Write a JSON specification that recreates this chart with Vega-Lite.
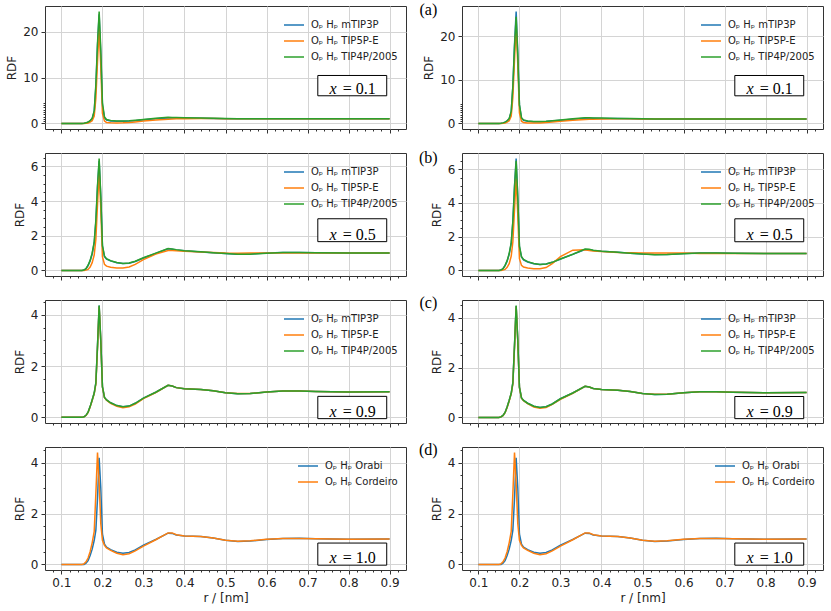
{
"$schema": "https://vega.github.io/schema/vega-lite/v6.json",
"padding": {"left": 5, "top": 1, "right": 8, "bottom": 5},
"background": "white",
"columns": 2,
"spacing": {"row": 24, "column": 56},
"bounds": "flush",
"resolve": {"scale": {"color": "independent"}},
"datasets": {"d": [
{"p":"1L","r":0.1,"m":0,"e":0,"t":0},
{"p":"1L","r":0.15,"m":0,"e":0,"t":0},
{"p":"1L","r":0.155,"m":0.02,"e":0,"t":0.03},
{"p":"1L","r":0.16,"m":0.1,"e":0.03,"t":0.12},
{"p":"1L","r":0.165,"m":0.25,"e":0.1,"t":0.3},
{"p":"1L","r":0.17,"m":0.55,"e":0.3,"t":0.6},
{"p":"1L","r":0.175,"m":1.0,"e":0.6,"t":1.1},
{"p":"1L","r":0.18,"m":2.6,"e":1.6,"t":2.8},
{"p":"1L","r":0.184,"m":8,"e":5.5,"t":8.5},
{"p":"1L","r":0.188,"m":17,"e":13.5,"t":17.5},
{"p":"1L","r":0.192,"m":23.8,"e":21,"t":24.4},
{"p":"1L","r":0.196,"m":15,"e":12.5,"t":16},
{"p":"1L","r":0.2,"m":4,"e":2.2,"t":4.5},
{"p":"1L","r":0.205,"m":1.2,"e":0.5,"t":1.4},
{"p":"1L","r":0.21,"m":0.75,"e":0.22,"t":0.85},
{"p":"1L","r":0.22,"m":0.55,"e":0.12,"t":0.62},
{"p":"1L","r":0.235,"m":0.45,"e":0.1,"t":0.52},
{"p":"1L","r":0.25,"m":0.45,"e":0.12,"t":0.52},
{"p":"1L","r":0.265,"m":0.5,"e":0.2,"t":0.58},
{"p":"1L","r":0.28,"m":0.6,"e":0.32,"t":0.68},
{"p":"1L","r":0.3,"m":0.78,"e":0.5,"t":0.85},
{"p":"1L","r":0.33,"m":1.0,"e":0.75,"t":1.1},
{"p":"1L","r":0.36,"m":1.2,"e":0.92,"t":1.32},
{"p":"1L","r":0.37,"m":1.22,"e":0.96,"t":1.3},
{"p":"1L","r":0.38,"m":1.2,"e":0.99,"t":1.28},
{"p":"1L","r":0.4,"m":1.16,"e":1.02,"t":1.24},
{"p":"1L","r":0.44,"m":1.1,"e":1.05,"t":1.16},
{"p":"1L","r":0.47,"m":1.06,"e":1.05,"t":1.1},
{"p":"1L","r":0.5,"m":1.03,"e":1.03,"t":1.06},
{"p":"1L","r":0.53,"m":1.01,"e":1.01,"t":1.03},
{"p":"1L","r":0.56,"m":1.0,"e":1.0,"t":1.01},
{"p":"1L","r":0.6,"m":1,"e":1,"t":1},
{"p":"1L","r":0.64,"m":1,"e":1,"t":1},
{"p":"1L","r":0.68,"m":1,"e":1,"t":1},
{"p":"1L","r":0.72,"m":1,"e":1,"t":1},
{"p":"1L","r":0.8,"m":1,"e":1,"t":1},
{"p":"1L","r":0.9,"m":1,"e":1,"t":1},
{"p":"1R","r":0.1,"m":0,"e":0,"t":0},
{"p":"1R","r":0.15,"m":0,"e":0,"t":0},
{"p":"1R","r":0.155,"m":0.02,"e":0,"t":0.03},
{"p":"1R","r":0.16,"m":0.1,"e":0.03,"t":0.12},
{"p":"1R","r":0.165,"m":0.25,"e":0.1,"t":0.3},
{"p":"1R","r":0.17,"m":0.55,"e":0.3,"t":0.6},
{"p":"1R","r":0.175,"m":1.0,"e":0.6,"t":1.1},
{"p":"1R","r":0.18,"m":2.7,"e":1.7,"t":2.8},
{"p":"1R","r":0.184,"m":8.5,"e":6,"t":8.5},
{"p":"1R","r":0.188,"m":18,"e":14.5,"t":17.5},
{"p":"1R","r":0.192,"m":25.6,"e":22.5,"t":24.4},
{"p":"1R","r":0.196,"m":16,"e":13.5,"t":15.5},
{"p":"1R","r":0.2,"m":4.2,"e":2.4,"t":4.3},
{"p":"1R","r":0.205,"m":1.2,"e":0.5,"t":1.3},
{"p":"1R","r":0.21,"m":0.7,"e":0.2,"t":0.8},
{"p":"1R","r":0.22,"m":0.5,"e":0.1,"t":0.55},
{"p":"1R","r":0.235,"m":0.4,"e":0.08,"t":0.45},
{"p":"1R","r":0.25,"m":0.4,"e":0.1,"t":0.45},
{"p":"1R","r":0.265,"m":0.45,"e":0.18,"t":0.5},
{"p":"1R","r":0.28,"m":0.55,"e":0.3,"t":0.62},
{"p":"1R","r":0.3,"m":0.72,"e":0.48,"t":0.8},
{"p":"1R","r":0.33,"m":0.98,"e":0.72,"t":1.05},
{"p":"1R","r":0.36,"m":1.18,"e":0.9,"t":1.28},
{"p":"1R","r":0.37,"m":1.2,"e":0.95,"t":1.28},
{"p":"1R","r":0.38,"m":1.18,"e":0.98,"t":1.26},
{"p":"1R","r":0.4,"m":1.15,"e":1.02,"t":1.22},
{"p":"1R","r":0.44,"m":1.1,"e":1.05,"t":1.15},
{"p":"1R","r":0.47,"m":1.06,"e":1.05,"t":1.1},
{"p":"1R","r":0.5,"m":1.03,"e":1.03,"t":1.06},
{"p":"1R","r":0.53,"m":1.01,"e":1.01,"t":1.03},
{"p":"1R","r":0.56,"m":1.0,"e":1.0,"t":1.01},
{"p":"1R","r":0.6,"m":1,"e":1,"t":1},
{"p":"1R","r":0.64,"m":1,"e":1,"t":1},
{"p":"1R","r":0.68,"m":1,"e":1,"t":1},
{"p":"1R","r":0.72,"m":1,"e":1,"t":1},
{"p":"1R","r":0.8,"m":1,"e":1,"t":1},
{"p":"1R","r":0.9,"m":1,"e":1,"t":1},
{"p":"2L","r":0.1,"m":0,"e":0,"t":0},
{"p":"2L","r":0.15,"m":0,"e":0,"t":0},
{"p":"2L","r":0.155,"m":0.02,"e":0,"t":0.02},
{"p":"2L","r":0.16,"m":0.1,"e":0.02,"t":0.1},
{"p":"2L","r":0.165,"m":0.28,"e":0.06,"t":0.3},
{"p":"2L","r":0.17,"m":0.55,"e":0.2,"t":0.58},
{"p":"2L","r":0.175,"m":0.95,"e":0.45,"t":1.0},
{"p":"2L","r":0.18,"m":1.6,"e":0.9,"t":1.65},
{"p":"2L","r":0.184,"m":2.8,"e":1.8,"t":2.9},
{"p":"2L","r":0.188,"m":4.8,"e":3.8,"t":4.9},
{"p":"2L","r":0.192,"m":6.3,"e":5.7,"t":6.45},
{"p":"2L","r":0.196,"m":4.2,"e":3.6,"t":4.3},
{"p":"2L","r":0.2,"m":1.4,"e":0.8,"t":1.45},
{"p":"2L","r":0.205,"m":0.8,"e":0.35,"t":0.82},
{"p":"2L","r":0.21,"m":0.65,"e":0.25,"t":0.68},
{"p":"2L","r":0.22,"m":0.55,"e":0.18,"t":0.56},
{"p":"2L","r":0.235,"m":0.45,"e":0.14,"t":0.46},
{"p":"2L","r":0.25,"m":0.4,"e":0.14,"t":0.4},
{"p":"2L","r":0.265,"m":0.42,"e":0.2,"t":0.43},
{"p":"2L","r":0.28,"m":0.52,"e":0.35,"t":0.53},
{"p":"2L","r":0.3,"m":0.72,"e":0.62,"t":0.73},
{"p":"2L","r":0.33,"m":0.98,"e":0.95,"t":1.0},
{"p":"2L","r":0.36,"m":1.25,"e":1.15,"t":1.26},
{"p":"2L","r":0.37,"m":1.22,"e":1.15,"t":1.24},
{"p":"2L","r":0.38,"m":1.18,"e":1.14,"t":1.2},
{"p":"2L","r":0.4,"m":1.13,"e":1.1,"t":1.14},
{"p":"2L","r":0.44,"m":1.07,"e":1.06,"t":1.08},
{"p":"2L","r":0.47,"m":1.02,"e":1.03,"t":1.02},
{"p":"2L","r":0.5,"m":0.97,"e":1.0,"t":0.97},
{"p":"2L","r":0.53,"m":0.93,"e":0.99,"t":0.93},
{"p":"2L","r":0.56,"m":0.95,"e":1.0,"t":0.94},
{"p":"2L","r":0.6,"m":1.0,"e":1.0,"t":0.99},
{"p":"2L","r":0.64,"m":1.03,"e":1.01,"t":1.03},
{"p":"2L","r":0.68,"m":1.03,"e":1.01,"t":1.03},
{"p":"2L","r":0.72,"m":1.02,"e":1.0,"t":1.02},
{"p":"2L","r":0.8,"m":1.0,"e":1.0,"t":1.0},
{"p":"2L","r":0.9,"m":1.0,"e":1.0,"t":1.0},
{"p":"2R","r":0.1,"m":0,"e":0,"t":0},
{"p":"2R","r":0.15,"m":0,"e":0,"t":0},
{"p":"2R","r":0.155,"m":0.02,"e":0,"t":0.02},
{"p":"2R","r":0.16,"m":0.1,"e":0.02,"t":0.1},
{"p":"2R","r":0.165,"m":0.28,"e":0.06,"t":0.3},
{"p":"2R","r":0.17,"m":0.55,"e":0.18,"t":0.58},
{"p":"2R","r":0.175,"m":0.95,"e":0.4,"t":1.0},
{"p":"2R","r":0.18,"m":1.6,"e":0.85,"t":1.65},
{"p":"2R","r":0.184,"m":2.9,"e":1.7,"t":2.9},
{"p":"2R","r":0.188,"m":5.0,"e":3.6,"t":4.9},
{"p":"2R","r":0.192,"m":6.63,"e":5.45,"t":6.5},
{"p":"2R","r":0.196,"m":4.3,"e":3.3,"t":4.3},
{"p":"2R","r":0.2,"m":1.4,"e":0.7,"t":1.45},
{"p":"2R","r":0.205,"m":0.8,"e":0.3,"t":0.82},
{"p":"2R","r":0.21,"m":0.62,"e":0.2,"t":0.65},
{"p":"2R","r":0.22,"m":0.5,"e":0.14,"t":0.52},
{"p":"2R","r":0.235,"m":0.4,"e":0.1,"t":0.41},
{"p":"2R","r":0.25,"m":0.35,"e":0.1,"t":0.35},
{"p":"2R","r":0.265,"m":0.38,"e":0.17,"t":0.38},
{"p":"2R","r":0.28,"m":0.48,"e":0.4,"t":0.48},
{"p":"2R","r":0.3,"m":0.68,"e":0.82,"t":0.68},
{"p":"2R","r":0.33,"m":0.95,"e":1.2,"t":0.96},
{"p":"2R","r":0.36,"m":1.24,"e":1.22,"t":1.27},
{"p":"2R","r":0.37,"m":1.22,"e":1.18,"t":1.25},
{"p":"2R","r":0.38,"m":1.18,"e":1.15,"t":1.2},
{"p":"2R","r":0.4,"m":1.13,"e":1.12,"t":1.14},
{"p":"2R","r":0.44,"m":1.08,"e":1.07,"t":1.08},
{"p":"2R","r":0.47,"m":1.02,"e":1.05,"t":1.02},
{"p":"2R","r":0.5,"m":0.97,"e":1.04,"t":0.97},
{"p":"2R","r":0.53,"m":0.94,"e":1.04,"t":0.93},
{"p":"2R","r":0.56,"m":0.95,"e":1.04,"t":0.94},
{"p":"2R","r":0.6,"m":1.0,"e":1.03,"t":0.99},
{"p":"2R","r":0.64,"m":1.03,"e":1.01,"t":1.03},
{"p":"2R","r":0.68,"m":1.03,"e":1.0,"t":1.03},
{"p":"2R","r":0.72,"m":1.02,"e":1.0,"t":1.02},
{"p":"2R","r":0.8,"m":1.0,"e":1.0,"t":1.0},
{"p":"2R","r":0.9,"m":1.0,"e":1.0,"t":1.0},
{"p":"3L","r":0.1,"m":0,"e":0,"t":0},
{"p":"3L","r":0.15,"m":0,"e":0,"t":0},
{"p":"3L","r":0.155,"m":0.02,"e":0.02,"t":0.02},
{"p":"3L","r":0.16,"m":0.08,"e":0.07,"t":0.08},
{"p":"3L","r":0.165,"m":0.2,"e":0.19,"t":0.2},
{"p":"3L","r":0.17,"m":0.42,"e":0.4,"t":0.42},
{"p":"3L","r":0.175,"m":0.68,"e":0.66,"t":0.68},
{"p":"3L","r":0.18,"m":0.95,"e":0.93,"t":0.95},
{"p":"3L","r":0.184,"m":1.35,"e":1.3,"t":1.35},
{"p":"3L","r":0.188,"m":2.8,"e":2.7,"t":2.8},
{"p":"3L","r":0.192,"m":4.36,"e":4.32,"t":4.36},
{"p":"3L","r":0.196,"m":3.0,"e":2.95,"t":3.0},
{"p":"3L","r":0.2,"m":1.2,"e":1.18,"t":1.2},
{"p":"3L","r":0.205,"m":0.78,"e":0.77,"t":0.78},
{"p":"3L","r":0.21,"m":0.68,"e":0.67,"t":0.68},
{"p":"3L","r":0.22,"m":0.57,"e":0.55,"t":0.57},
{"p":"3L","r":0.235,"m":0.46,"e":0.43,"t":0.46},
{"p":"3L","r":0.25,"m":0.41,"e":0.38,"t":0.41},
{"p":"3L","r":0.265,"m":0.44,"e":0.41,"t":0.44},
{"p":"3L","r":0.28,"m":0.55,"e":0.52,"t":0.55},
{"p":"3L","r":0.3,"m":0.75,"e":0.73,"t":0.75},
{"p":"3L","r":0.33,"m":0.98,"e":0.97,"t":0.98},
{"p":"3L","r":0.36,"m":1.25,"e":1.25,"t":1.25},
{"p":"3L","r":0.37,"m":1.22,"e":1.22,"t":1.22},
{"p":"3L","r":0.38,"m":1.16,"e":1.16,"t":1.16},
{"p":"3L","r":0.4,"m":1.12,"e":1.12,"t":1.12},
{"p":"3L","r":0.44,"m":1.09,"e":1.09,"t":1.09},
{"p":"3L","r":0.47,"m":1.04,"e":1.04,"t":1.04},
{"p":"3L","r":0.5,"m":0.96,"e":0.96,"t":0.96},
{"p":"3L","r":0.53,"m":0.92,"e":0.93,"t":0.92},
{"p":"3L","r":0.56,"m":0.93,"e":0.93,"t":0.93},
{"p":"3L","r":0.6,"m":0.99,"e":0.99,"t":0.99},
{"p":"3L","r":0.64,"m":1.03,"e":1.03,"t":1.03},
{"p":"3L","r":0.68,"m":1.03,"e":1.03,"t":1.03},
{"p":"3L","r":0.72,"m":1.01,"e":1.01,"t":1.01},
{"p":"3L","r":0.8,"m":0.99,"e":0.99,"t":0.99},
{"p":"3L","r":0.9,"m":1.0,"e":1.0,"t":1.0},
{"p":"3R","r":0.1,"m":0,"e":0,"t":0},
{"p":"3R","r":0.15,"m":0,"e":0,"t":0},
{"p":"3R","r":0.155,"m":0.02,"e":0.02,"t":0.02},
{"p":"3R","r":0.16,"m":0.08,"e":0.07,"t":0.08},
{"p":"3R","r":0.165,"m":0.2,"e":0.19,"t":0.2},
{"p":"3R","r":0.17,"m":0.42,"e":0.4,"t":0.42},
{"p":"3R","r":0.175,"m":0.68,"e":0.66,"t":0.68},
{"p":"3R","r":0.18,"m":0.97,"e":0.95,"t":0.97},
{"p":"3R","r":0.184,"m":1.4,"e":1.35,"t":1.4},
{"p":"3R","r":0.188,"m":2.9,"e":2.8,"t":2.9},
{"p":"3R","r":0.192,"m":4.48,"e":4.45,"t":4.5},
{"p":"3R","r":0.196,"m":3.1,"e":3.05,"t":3.1},
{"p":"3R","r":0.2,"m":1.22,"e":1.2,"t":1.22},
{"p":"3R","r":0.205,"m":0.78,"e":0.77,"t":0.78},
{"p":"3R","r":0.21,"m":0.68,"e":0.67,"t":0.68},
{"p":"3R","r":0.22,"m":0.57,"e":0.55,"t":0.57},
{"p":"3R","r":0.235,"m":0.45,"e":0.42,"t":0.45},
{"p":"3R","r":0.25,"m":0.4,"e":0.37,"t":0.4},
{"p":"3R","r":0.265,"m":0.43,"e":0.4,"t":0.43},
{"p":"3R","r":0.28,"m":0.54,"e":0.52,"t":0.54},
{"p":"3R","r":0.3,"m":0.75,"e":0.73,"t":0.75},
{"p":"3R","r":0.33,"m":0.98,"e":0.97,"t":0.98},
{"p":"3R","r":0.36,"m":1.25,"e":1.25,"t":1.25},
{"p":"3R","r":0.37,"m":1.22,"e":1.22,"t":1.22},
{"p":"3R","r":0.38,"m":1.16,"e":1.16,"t":1.16},
{"p":"3R","r":0.4,"m":1.12,"e":1.12,"t":1.12},
{"p":"3R","r":0.44,"m":1.09,"e":1.09,"t":1.09},
{"p":"3R","r":0.47,"m":1.04,"e":1.04,"t":1.04},
{"p":"3R","r":0.5,"m":0.96,"e":0.96,"t":0.96},
{"p":"3R","r":0.53,"m":0.92,"e":0.93,"t":0.92},
{"p":"3R","r":0.56,"m":0.93,"e":0.93,"t":0.93},
{"p":"3R","r":0.6,"m":0.99,"e":0.99,"t":0.99},
{"p":"3R","r":0.64,"m":1.03,"e":1.03,"t":1.03},
{"p":"3R","r":0.68,"m":1.03,"e":1.03,"t":1.03},
{"p":"3R","r":0.72,"m":1.01,"e":1.01,"t":1.01},
{"p":"3R","r":0.8,"m":0.99,"e":0.99,"t":0.99},
{"p":"3R","r":0.9,"m":1.0,"e":1.0,"t":1.0},
{"p":"4L","r":0.1,"o":0,"c":0},
{"p":"4L","r":0.15,"o":0,"c":0},
{"p":"4L","r":0.155,"o":0,"c":0.02},
{"p":"4L","r":0.16,"o":0.05,"c":0.1},
{"p":"4L","r":0.165,"o":0.15,"c":0.25},
{"p":"4L","r":0.17,"o":0.35,"c":0.5},
{"p":"4L","r":0.175,"o":0.6,"c":0.85},
{"p":"4L","r":0.18,"o":0.95,"c":1.3},
{"p":"4L","r":0.184,"o":1.35,"c":2.8},
{"p":"4L","r":0.188,"o":2.6,"c":4.4},
{"p":"4L","r":0.192,"o":4.2,"c":3.2},
{"p":"4L","r":0.196,"o":3.0,"c":1.6},
{"p":"4L","r":0.2,"o":1.2,"c":0.95},
{"p":"4L","r":0.205,"o":0.8,"c":0.75},
{"p":"4L","r":0.21,"o":0.68,"c":0.65},
{"p":"4L","r":0.22,"o":0.58,"c":0.55},
{"p":"4L","r":0.235,"o":0.48,"c":0.44},
{"p":"4L","r":0.25,"o":0.44,"c":0.38},
{"p":"4L","r":0.265,"o":0.47,"c":0.42},
{"p":"4L","r":0.28,"o":0.57,"c":0.53},
{"p":"4L","r":0.3,"o":0.76,"c":0.72},
{"p":"4L","r":0.33,"o":0.98,"c":0.97},
{"p":"4L","r":0.36,"o":1.23,"c":1.24},
{"p":"4L","r":0.37,"o":1.22,"c":1.24},
{"p":"4L","r":0.38,"o":1.16,"c":1.17},
{"p":"4L","r":0.4,"o":1.12,"c":1.12},
{"p":"4L","r":0.44,"o":1.1,"c":1.1},
{"p":"4L","r":0.47,"o":1.04,"c":1.04},
{"p":"4L","r":0.5,"o":0.95,"c":0.95},
{"p":"4L","r":0.53,"o":0.9,"c":0.91},
{"p":"4L","r":0.56,"o":0.92,"c":0.93},
{"p":"4L","r":0.6,"o":0.98,"c":0.99},
{"p":"4L","r":0.64,"o":1.02,"c":1.02},
{"p":"4L","r":0.68,"o":1.03,"c":1.02},
{"p":"4L","r":0.72,"o":1.01,"c":1.01},
{"p":"4L","r":0.8,"o":0.99,"c":0.99},
{"p":"4L","r":0.9,"o":1.0,"c":1.0},
{"p":"4R","r":0.1,"o":0,"c":0},
{"p":"4R","r":0.15,"o":0,"c":0},
{"p":"4R","r":0.155,"o":0,"c":0.02},
{"p":"4R","r":0.16,"o":0.05,"c":0.1},
{"p":"4R","r":0.165,"o":0.15,"c":0.25},
{"p":"4R","r":0.17,"o":0.35,"c":0.5},
{"p":"4R","r":0.175,"o":0.6,"c":0.85},
{"p":"4R","r":0.18,"o":0.95,"c":1.3},
{"p":"4R","r":0.184,"o":1.35,"c":2.8},
{"p":"4R","r":0.188,"o":2.6,"c":4.4},
{"p":"4R","r":0.192,"o":4.2,"c":3.2},
{"p":"4R","r":0.196,"o":3.0,"c":1.6},
{"p":"4R","r":0.2,"o":1.2,"c":0.95},
{"p":"4R","r":0.205,"o":0.8,"c":0.75},
{"p":"4R","r":0.21,"o":0.68,"c":0.65},
{"p":"4R","r":0.22,"o":0.58,"c":0.55},
{"p":"4R","r":0.235,"o":0.48,"c":0.44},
{"p":"4R","r":0.25,"o":0.44,"c":0.38},
{"p":"4R","r":0.265,"o":0.47,"c":0.42},
{"p":"4R","r":0.28,"o":0.57,"c":0.53},
{"p":"4R","r":0.3,"o":0.76,"c":0.72},
{"p":"4R","r":0.33,"o":0.98,"c":0.97},
{"p":"4R","r":0.36,"o":1.23,"c":1.24},
{"p":"4R","r":0.37,"o":1.22,"c":1.24},
{"p":"4R","r":0.38,"o":1.16,"c":1.17},
{"p":"4R","r":0.4,"o":1.12,"c":1.12},
{"p":"4R","r":0.44,"o":1.1,"c":1.1},
{"p":"4R","r":0.47,"o":1.04,"c":1.04},
{"p":"4R","r":0.5,"o":0.95,"c":0.95},
{"p":"4R","r":0.53,"o":0.9,"c":0.91},
{"p":"4R","r":0.56,"o":0.92,"c":0.93},
{"p":"4R","r":0.6,"o":0.98,"c":0.99},
{"p":"4R","r":0.64,"o":1.02,"c":1.02},
{"p":"4R","r":0.68,"o":1.03,"c":1.02},
{"p":"4R","r":0.72,"o":1.01,"c":1.01},
{"p":"4R","r":0.8,"o":0.99,"c":0.99},
{"p":"4R","r":0.9,"o":1.0,"c":1.0}
]},
"concat": [
{"width": 361, "height": 123, "resolve": {"axis": {"x": "independent", "y": "independent"}}, "layer": [
 {"data": {"name": "d"}, "transform": [{"filter": "datum.p=='1L'"}, {"fold": ["m","e","t"], "as": ["s","g"]}],
  "mark": {"type": "line", "strokeWidth": 1.5, "clip": true},
  "encoding": {
   "x": {"field": "r", "type": "quantitative", "scale": {"domain": [0.06,0.94], "nice": false, "zero": false},
    "axis": {"orient": "bottom", "values": [0.1,0.2,0.3,0.4,0.5,0.6,0.7,0.8,0.9], "labels": false, "title": null, "gridColor": "#d4d4d4", "tickSize": 4}},
   "y": {"field": "g", "type": "quantitative", "scale": {"domain": [-1.22,25.62], "nice": false, "zero": false},
    "axis": {"orient": "left", "values": [0,10,20], "title": "RDF", "gridColor": "#d4d4d4", "tickSize": 4}},
   "color": {"field": "s", "type": "nominal", "scale": {"domain": ["m","e","t"], "range": ["#1f77b4","#ff7f0e","#2ca02c"]},
    "legend": {"title": null, "labelExpr": "datum.label=='m' ? 'Oₚ Hₚ mTIP3P' : datum.label=='e' ? 'Oₚ Hₚ TIP5P-E' : 'Oₚ Hₚ TIP4P/2005'"}}
  }},
 {"data": {"values": [{}]}, "mark": {"type": "rect", "fill": "white", "stroke": "black", "strokeWidth": 1},
  "encoding": {
   "x": {"datum": 0.725, "type": "quantitative", "axis": {"orient": "bottom", "values": [0.08,0.12,0.14,0.16,0.18,0.22,0.24,0.26,0.28,0.32,0.34,0.36,0.38,0.42,0.44,0.46,0.48,0.52,0.54,0.56,0.58,0.62,0.64,0.66,0.68,0.72,0.74,0.76,0.78,0.82,0.84,0.86,0.88,0.92], "labels": false, "title": null, "gridColor": "#eeeeee", "tickSize": 2}},
   "x2": {"datum": 0.893},
   "y": {"datum": 10.46, "type": "quantitative", "axis": {"orient": "left", "values": [0.5,1,1.5,2,2.5,3,3.5,4,4.5], "labels": false, "title": null, "gridColor": "#eeeeee", "tickSize": 2}},
   "y2": {"datum": 6.03}}},
 {"data": {"values": [{}]}, "mark": {"type": "text", "font": "Liberation Serif", "fontSize": 16, "fontStyle": "italic", "align": "center", "baseline": "alphabetic", "dy": -2, "text": "x"},
  "encoding": {"x": {"datum": 0.762, "type": "quantitative", "axis": null}, "y": {"datum": 6.03, "type": "quantitative", "axis": null}}},
 {"data": {"values": [{}]}, "mark": {"type": "text", "font": "Liberation Serif", "fontSize": 16, "align": "left", "baseline": "alphabetic", "dy": -2, "text": "= 0.1"},
  "encoding": {"x": {"datum": 0.786, "type": "quantitative", "axis": null}, "y": {"datum": 6.03, "type": "quantitative", "axis": null}}}
]},
{"width": 361, "height": 123, "resolve": {"axis": {"x": "independent", "y": "independent"}}, "layer": [
 {"data": {"name": "d"}, "transform": [{"filter": "datum.p=='1R'"}, {"fold": ["m","e","t"], "as": ["s","g"]}],
  "mark": {"type": "line", "strokeWidth": 1.5, "clip": true},
  "encoding": {
   "x": {"field": "r", "type": "quantitative", "scale": {"domain": [0.06,0.94], "nice": false, "zero": false},
    "axis": {"orient": "bottom", "values": [0.1,0.2,0.3,0.4,0.5,0.6,0.7,0.8,0.9], "labels": false, "title": null, "gridColor": "#d4d4d4", "tickSize": 4}},
   "y": {"field": "g", "type": "quantitative", "scale": {"domain": [-1.28,26.88], "nice": false, "zero": false},
    "axis": {"orient": "left", "values": [0,10,20], "title": "RDF", "gridColor": "#d4d4d4", "tickSize": 4}},
   "color": {"field": "s", "type": "nominal", "scale": {"domain": ["m","e","t"], "range": ["#1f77b4","#ff7f0e","#2ca02c"]},
    "legend": {"title": null, "labelExpr": "datum.label=='m' ? 'Oₚ Hₚ mTIP3P' : datum.label=='e' ? 'Oₚ Hₚ TIP5P-E' : 'Oₚ Hₚ TIP4P/2005'"}}
  }},
 {"data": {"values": [{}]}, "mark": {"type": "rect", "fill": "white", "stroke": "black", "strokeWidth": 1},
  "encoding": {
   "x": {"datum": 0.725, "type": "quantitative", "axis": {"orient": "bottom", "values": [0.08,0.12,0.14,0.16,0.18,0.22,0.24,0.26,0.28,0.32,0.34,0.36,0.38,0.42,0.44,0.46,0.48,0.52,0.54,0.56,0.58,0.62,0.64,0.66,0.68,0.72,0.74,0.76,0.78,0.82,0.84,0.86,0.88,0.92], "labels": false, "title": null, "gridColor": "#eeeeee", "tickSize": 2}},
   "x2": {"datum": 0.893},
   "y": {"datum": 10.97, "type": "quantitative", "axis": {"orient": "left", "values": [0.5,1,1.5,2,2.5,3,3.5,4,4.5], "labels": false, "title": null, "gridColor": "#eeeeee", "tickSize": 2}},
   "y2": {"datum": 6.32}}},
 {"data": {"values": [{}]}, "mark": {"type": "text", "font": "Liberation Serif", "fontSize": 16, "fontStyle": "italic", "align": "center", "baseline": "alphabetic", "dy": -2, "text": "x"},
  "encoding": {"x": {"datum": 0.762, "type": "quantitative", "axis": null}, "y": {"datum": 6.32, "type": "quantitative", "axis": null}}},
 {"data": {"values": [{}]}, "mark": {"type": "text", "font": "Liberation Serif", "fontSize": 16, "align": "left", "baseline": "alphabetic", "dy": -2, "text": "= 0.1"},
  "encoding": {"x": {"datum": 0.786, "type": "quantitative", "axis": null}, "y": {"datum": 6.32, "type": "quantitative", "axis": null}}},
 {"data": {"values": [{}]}, "mark": {"type": "text", "font": "Liberation Serif", "fontSize": 16, "align": "center", "baseline": "middle", "text": "(a)"},
  "encoding": {"x": {"datum": -0.022, "type": "quantitative", "scale": {"domain": [0.06,0.94]}, "axis": null}, "y": {"datum": 26.07, "type": "quantitative", "scale": {"domain": [-1.28,26.88]}, "axis": null}}}
]},
{"width": 361, "height": 123, "resolve": {"axis": {"x": "independent", "y": "independent"}}, "layer": [
 {"data": {"name": "d"}, "transform": [{"filter": "datum.p=='2L'"}, {"fold": ["m","e","t"], "as": ["s","g"]}],
  "mark": {"type": "line", "strokeWidth": 1.5, "clip": true},
  "encoding": {
   "x": {"field": "r", "type": "quantitative", "scale": {"domain": [0.06,0.94], "nice": false, "zero": false},
    "axis": {"orient": "bottom", "values": [0.1,0.2,0.3,0.4,0.5,0.6,0.7,0.8,0.9], "labels": false, "title": null, "gridColor": "#d4d4d4", "tickSize": 4}},
   "y": {"field": "g", "type": "quantitative", "scale": {"domain": [-0.32,6.77], "nice": false, "zero": false},
    "axis": {"orient": "left", "values": [0,2,4,6], "title": "RDF", "gridColor": "#d4d4d4", "tickSize": 4}},
   "color": {"field": "s", "type": "nominal", "scale": {"domain": ["m","e","t"], "range": ["#1f77b4","#ff7f0e","#2ca02c"]},
    "legend": {"title": null, "labelExpr": "datum.label=='m' ? 'Oₚ Hₚ mTIP3P' : datum.label=='e' ? 'Oₚ Hₚ TIP5P-E' : 'Oₚ Hₚ TIP4P/2005'"}}
  }},
 {"data": {"values": [{}]}, "mark": {"type": "rect", "fill": "white", "stroke": "black", "strokeWidth": 1},
  "encoding": {
   "x": {"datum": 0.725, "type": "quantitative", "axis": {"orient": "bottom", "values": [0.08,0.12,0.14,0.16,0.18,0.22,0.24,0.26,0.28,0.32,0.34,0.36,0.38,0.42,0.44,0.46,0.48,0.52,0.54,0.56,0.58,0.62,0.64,0.66,0.68,0.72,0.74,0.76,0.78,0.82,0.84,0.86,0.88,0.92], "labels": false, "title": null, "gridColor": "#eeeeee", "tickSize": 2}},
   "x2": {"datum": 0.893},
   "y": {"datum": 2.98, "type": "quantitative", "axis": {"orient": "left", "values": [0.5,1,1.5,2.5,3,3.5,4.5,5,5.5,6.5], "labels": false, "title": null, "gridColor": "#eeeeee", "tickSize": 2}},
   "y2": {"datum": 1.66}}},
 {"data": {"values": [{}]}, "mark": {"type": "text", "font": "Liberation Serif", "fontSize": 16, "fontStyle": "italic", "align": "center", "baseline": "alphabetic", "dy": -2, "text": "x"},
  "encoding": {"x": {"datum": 0.762, "type": "quantitative", "axis": null}, "y": {"datum": 1.66, "type": "quantitative", "axis": null}}},
 {"data": {"values": [{}]}, "mark": {"type": "text", "font": "Liberation Serif", "fontSize": 16, "align": "left", "baseline": "alphabetic", "dy": -2, "text": "= 0.5"},
  "encoding": {"x": {"datum": 0.786, "type": "quantitative", "axis": null}, "y": {"datum": 1.66, "type": "quantitative", "axis": null}}}
]},
{"width": 361, "height": 123, "resolve": {"axis": {"x": "independent", "y": "independent"}}, "layer": [
 {"data": {"name": "d"}, "transform": [{"filter": "datum.p=='2R'"}, {"fold": ["m","e","t"], "as": ["s","g"]}],
  "mark": {"type": "line", "strokeWidth": 1.5, "clip": true},
  "encoding": {
   "x": {"field": "r", "type": "quantitative", "scale": {"domain": [0.06,0.94], "nice": false, "zero": false},
    "axis": {"orient": "bottom", "values": [0.1,0.2,0.3,0.4,0.5,0.6,0.7,0.8,0.9], "labels": false, "title": null, "gridColor": "#d4d4d4", "tickSize": 4}},
   "y": {"field": "g", "type": "quantitative", "scale": {"domain": [-0.33,6.96], "nice": false, "zero": false},
    "axis": {"orient": "left", "values": [0,2,4,6], "title": "RDF", "gridColor": "#d4d4d4", "tickSize": 4}},
   "color": {"field": "s", "type": "nominal", "scale": {"domain": ["m","e","t"], "range": ["#1f77b4","#ff7f0e","#2ca02c"]},
    "legend": {"title": null, "labelExpr": "datum.label=='m' ? 'Oₚ Hₚ mTIP3P' : datum.label=='e' ? 'Oₚ Hₚ TIP5P-E' : 'Oₚ Hₚ TIP4P/2005'"}}
  }},
 {"data": {"values": [{}]}, "mark": {"type": "rect", "fill": "white", "stroke": "black", "strokeWidth": 1},
  "encoding": {
   "x": {"datum": 0.725, "type": "quantitative", "axis": {"orient": "bottom", "values": [0.08,0.12,0.14,0.16,0.18,0.22,0.24,0.26,0.28,0.32,0.34,0.36,0.38,0.42,0.44,0.46,0.48,0.52,0.54,0.56,0.58,0.62,0.64,0.66,0.68,0.72,0.74,0.76,0.78,0.82,0.84,0.86,0.88,0.92], "labels": false, "title": null, "gridColor": "#eeeeee", "tickSize": 2}},
   "x2": {"datum": 0.893},
   "y": {"datum": 3.06, "type": "quantitative", "axis": {"orient": "left", "values": [0.5,1,1.5,2.5,3,3.5,4.5,5,5.5,6.5], "labels": false, "title": null, "gridColor": "#eeeeee", "tickSize": 2}},
   "y2": {"datum": 1.70}}},
 {"data": {"values": [{}]}, "mark": {"type": "text", "font": "Liberation Serif", "fontSize": 16, "fontStyle": "italic", "align": "center", "baseline": "alphabetic", "dy": -2, "text": "x"},
  "encoding": {"x": {"datum": 0.762, "type": "quantitative", "axis": null}, "y": {"datum": 1.70, "type": "quantitative", "axis": null}}},
 {"data": {"values": [{}]}, "mark": {"type": "text", "font": "Liberation Serif", "fontSize": 16, "align": "left", "baseline": "alphabetic", "dy": -2, "text": "= 0.5"},
  "encoding": {"x": {"datum": 0.786, "type": "quantitative", "axis": null}, "y": {"datum": 1.70, "type": "quantitative", "axis": null}}},
 {"data": {"values": [{}]}, "mark": {"type": "text", "font": "Liberation Serif", "fontSize": 16, "align": "center", "baseline": "middle", "text": "(b)"},
  "encoding": {"x": {"datum": -0.022, "type": "quantitative", "scale": {"domain": [0.06,0.94]}, "axis": null}, "y": {"datum": 6.66, "type": "quantitative", "scale": {"domain": [-0.33,6.96]}, "axis": null}}}
]},
{"width": 361, "height": 123, "resolve": {"axis": {"x": "independent", "y": "independent"}}, "layer": [
 {"data": {"name": "d"}, "transform": [{"filter": "datum.p=='3L'"}, {"fold": ["m","e","t"], "as": ["s","g"]}],
  "mark": {"type": "line", "strokeWidth": 1.5, "clip": true},
  "encoding": {
   "x": {"field": "r", "type": "quantitative", "scale": {"domain": [0.06,0.94], "nice": false, "zero": false},
    "axis": {"orient": "bottom", "values": [0.1,0.2,0.3,0.4,0.5,0.6,0.7,0.8,0.9], "labels": false, "title": null, "gridColor": "#d4d4d4", "tickSize": 4}},
   "y": {"field": "g", "type": "quantitative", "scale": {"domain": [-0.22,4.58], "nice": false, "zero": false},
    "axis": {"orient": "left", "values": [0,2,4], "title": "RDF", "gridColor": "#d4d4d4", "tickSize": 4}},
   "color": {"field": "s", "type": "nominal", "scale": {"domain": ["m","e","t"], "range": ["#1f77b4","#ff7f0e","#2ca02c"]},
    "legend": {"title": null, "labelExpr": "datum.label=='m' ? 'Oₚ Hₚ mTIP3P' : datum.label=='e' ? 'Oₚ Hₚ TIP5P-E' : 'Oₚ Hₚ TIP4P/2005'"}}
  }},
 {"data": {"values": [{}]}, "mark": {"type": "rect", "fill": "white", "stroke": "black", "strokeWidth": 1},
  "encoding": {
   "x": {"datum": 0.725, "type": "quantitative", "axis": {"orient": "bottom", "values": [0.08,0.12,0.14,0.16,0.18,0.22,0.24,0.26,0.28,0.32,0.34,0.36,0.38,0.42,0.44,0.46,0.48,0.52,0.54,0.56,0.58,0.62,0.64,0.66,0.68,0.72,0.74,0.76,0.78,0.82,0.84,0.86,0.88,0.92], "labels": false, "title": null, "gridColor": "#eeeeee", "tickSize": 2}},
   "x2": {"datum": 0.893},
   "y": {"datum": 0.82, "type": "quantitative", "axis": {"orient": "left", "values": [0.5,1,1.5,2.5,3,3.5,4.5], "labels": false, "title": null, "gridColor": "#eeeeee", "tickSize": 2}},
   "y2": {"datum": -0.05}}},
 {"data": {"values": [{}]}, "mark": {"type": "text", "font": "Liberation Serif", "fontSize": 16, "fontStyle": "italic", "align": "center", "baseline": "alphabetic", "dy": -2, "text": "x"},
  "encoding": {"x": {"datum": 0.762, "type": "quantitative", "axis": null}, "y": {"datum": -0.05, "type": "quantitative", "axis": null}}},
 {"data": {"values": [{}]}, "mark": {"type": "text", "font": "Liberation Serif", "fontSize": 16, "align": "left", "baseline": "alphabetic", "dy": -2, "text": "= 0.9"},
  "encoding": {"x": {"datum": 0.786, "type": "quantitative", "axis": null}, "y": {"datum": -0.05, "type": "quantitative", "axis": null}}}
]},
{"width": 361, "height": 123, "resolve": {"axis": {"x": "independent", "y": "independent"}}, "layer": [
 {"data": {"name": "d"}, "transform": [{"filter": "datum.p=='3R'"}, {"fold": ["m","e","t"], "as": ["s","g"]}],
  "mark": {"type": "line", "strokeWidth": 1.5, "clip": true},
  "encoding": {
   "x": {"field": "r", "type": "quantitative", "scale": {"domain": [0.06,0.94], "nice": false, "zero": false},
    "axis": {"orient": "bottom", "values": [0.1,0.2,0.3,0.4,0.5,0.6,0.7,0.8,0.9], "labels": false, "title": null, "gridColor": "#d4d4d4", "tickSize": 4}},
   "y": {"field": "g", "type": "quantitative", "scale": {"domain": [-0.225,4.72], "nice": false, "zero": false},
    "axis": {"orient": "left", "values": [0,2,4], "title": "RDF", "gridColor": "#d4d4d4", "tickSize": 4}},
   "color": {"field": "s", "type": "nominal", "scale": {"domain": ["m","e","t"], "range": ["#1f77b4","#ff7f0e","#2ca02c"]},
    "legend": {"title": null, "labelExpr": "datum.label=='m' ? 'Oₚ Hₚ mTIP3P' : datum.label=='e' ? 'Oₚ Hₚ TIP5P-E' : 'Oₚ Hₚ TIP4P/2005'"}}
  }},
 {"data": {"values": [{}]}, "mark": {"type": "rect", "fill": "white", "stroke": "black", "strokeWidth": 1},
  "encoding": {
   "x": {"datum": 0.725, "type": "quantitative", "axis": {"orient": "bottom", "values": [0.08,0.12,0.14,0.16,0.18,0.22,0.24,0.26,0.28,0.32,0.34,0.36,0.38,0.42,0.44,0.46,0.48,0.52,0.54,0.56,0.58,0.62,0.64,0.66,0.68,0.72,0.74,0.76,0.78,0.82,0.84,0.86,0.88,0.92], "labels": false, "title": null, "gridColor": "#eeeeee", "tickSize": 2}},
   "x2": {"datum": 0.893},
   "y": {"datum": 0.84, "type": "quantitative", "axis": {"orient": "left", "values": [0.5,1,1.5,2.5,3,3.5,4.5], "labels": false, "title": null, "gridColor": "#eeeeee", "tickSize": 2}},
   "y2": {"datum": -0.05}}},
 {"data": {"values": [{}]}, "mark": {"type": "text", "font": "Liberation Serif", "fontSize": 16, "fontStyle": "italic", "align": "center", "baseline": "alphabetic", "dy": -2, "text": "x"},
  "encoding": {"x": {"datum": 0.762, "type": "quantitative", "axis": null}, "y": {"datum": -0.05, "type": "quantitative", "axis": null}}},
 {"data": {"values": [{}]}, "mark": {"type": "text", "font": "Liberation Serif", "fontSize": 16, "align": "left", "baseline": "alphabetic", "dy": -2, "text": "= 0.9"},
  "encoding": {"x": {"datum": 0.786, "type": "quantitative", "axis": null}, "y": {"datum": -0.05, "type": "quantitative", "axis": null}}},
 {"data": {"values": [{}]}, "mark": {"type": "text", "font": "Liberation Serif", "fontSize": 16, "align": "center", "baseline": "middle", "text": "(c)"},
  "encoding": {"x": {"datum": -0.022, "type": "quantitative", "scale": {"domain": [0.06,0.94]}, "axis": null}, "y": {"datum": 4.58, "type": "quantitative", "scale": {"domain": [-0.225,4.72]}, "axis": null}}}
]},
{"width": 361, "height": 123, "resolve": {"axis": {"x": "independent", "y": "independent"}}, "layer": [
 {"data": {"name": "d"}, "transform": [{"filter": "datum.p=='4L'"}, {"fold": ["o","c"], "as": ["s","g"]}],
  "mark": {"type": "line", "strokeWidth": 1.5, "clip": true},
  "encoding": {
   "x": {"field": "r", "type": "quantitative", "scale": {"domain": [0.06,0.94], "nice": false, "zero": false},
    "axis": {"orient": "bottom", "values": [0.1,0.2,0.3,0.4,0.5,0.6,0.7,0.8,0.9], "format": ".1f", "title": "r / [nm]", "gridColor": "#d4d4d4", "tickSize": 4}},
   "y": {"field": "g", "type": "quantitative", "scale": {"domain": [-0.22,4.62], "nice": false, "zero": false},
    "axis": {"orient": "left", "values": [0,2,4], "title": "RDF", "gridColor": "#d4d4d4", "tickSize": 4}},
   "color": {"field": "s", "type": "nominal", "scale": {"domain": ["o","c"], "range": ["#1f77b4","#ff7f0e"]},
    "legend": {"title": null, "labelExpr": "datum.label=='o' ? 'Oₚ Hₚ Orabi' : 'Oₚ Hₚ Cordeiro'"}}
  }},
 {"data": {"values": [{}]}, "mark": {"type": "rect", "fill": "white", "stroke": "black", "strokeWidth": 1},
  "encoding": {
   "x": {"datum": 0.725, "type": "quantitative", "axis": {"orient": "bottom", "values": [0.08,0.12,0.14,0.16,0.18,0.22,0.24,0.26,0.28,0.32,0.34,0.36,0.38,0.42,0.44,0.46,0.48,0.52,0.54,0.56,0.58,0.62,0.64,0.66,0.68,0.72,0.74,0.76,0.78,0.82,0.84,0.86,0.88,0.92], "labels": false, "title": null, "gridColor": "#eeeeee", "tickSize": 2}},
   "x2": {"datum": 0.893},
   "y": {"datum": 0.84, "type": "quantitative", "axis": {"orient": "left", "values": [0.5,1,1.5,2.5,3,3.5,4.5], "labels": false, "title": null, "gridColor": "#eeeeee", "tickSize": 2}},
   "y2": {"datum": -0.03}}},
 {"data": {"values": [{}]}, "mark": {"type": "text", "font": "Liberation Serif", "fontSize": 16, "fontStyle": "italic", "align": "center", "baseline": "alphabetic", "dy": -2, "text": "x"},
  "encoding": {"x": {"datum": 0.762, "type": "quantitative", "axis": null}, "y": {"datum": -0.03, "type": "quantitative", "axis": null}}},
 {"data": {"values": [{}]}, "mark": {"type": "text", "font": "Liberation Serif", "fontSize": 16, "align": "left", "baseline": "alphabetic", "dy": -2, "text": "= 1.0"},
  "encoding": {"x": {"datum": 0.786, "type": "quantitative", "axis": null}, "y": {"datum": -0.03, "type": "quantitative", "axis": null}}}
]},
{"width": 361, "height": 123, "resolve": {"axis": {"x": "independent", "y": "independent"}}, "layer": [
 {"data": {"name": "d"}, "transform": [{"filter": "datum.p=='4R'"}, {"fold": ["o","c"], "as": ["s","g"]}],
  "mark": {"type": "line", "strokeWidth": 1.5, "clip": true},
  "encoding": {
   "x": {"field": "r", "type": "quantitative", "scale": {"domain": [0.06,0.94], "nice": false, "zero": false},
    "axis": {"orient": "bottom", "values": [0.1,0.2,0.3,0.4,0.5,0.6,0.7,0.8,0.9], "format": ".1f", "title": "r / [nm]", "gridColor": "#d4d4d4", "tickSize": 4}},
   "y": {"field": "g", "type": "quantitative", "scale": {"domain": [-0.22,4.62], "nice": false, "zero": false},
    "axis": {"orient": "left", "values": [0,2,4], "title": "RDF", "gridColor": "#d4d4d4", "tickSize": 4}},
   "color": {"field": "s", "type": "nominal", "scale": {"domain": ["o","c"], "range": ["#1f77b4","#ff7f0e"]},
    "legend": {"title": null, "labelExpr": "datum.label=='o' ? 'Oₚ Hₚ Orabi' : 'Oₚ Hₚ Cordeiro'"}}
  }},
 {"data": {"values": [{}]}, "mark": {"type": "rect", "fill": "white", "stroke": "black", "strokeWidth": 1},
  "encoding": {
   "x": {"datum": 0.725, "type": "quantitative", "axis": {"orient": "bottom", "values": [0.08,0.12,0.14,0.16,0.18,0.22,0.24,0.26,0.28,0.32,0.34,0.36,0.38,0.42,0.44,0.46,0.48,0.52,0.54,0.56,0.58,0.62,0.64,0.66,0.68,0.72,0.74,0.76,0.78,0.82,0.84,0.86,0.88,0.92], "labels": false, "title": null, "gridColor": "#eeeeee", "tickSize": 2}},
   "x2": {"datum": 0.893},
   "y": {"datum": 0.84, "type": "quantitative", "axis": {"orient": "left", "values": [0.5,1,1.5,2.5,3,3.5,4.5], "labels": false, "title": null, "gridColor": "#eeeeee", "tickSize": 2}},
   "y2": {"datum": -0.03}}},
 {"data": {"values": [{}]}, "mark": {"type": "text", "font": "Liberation Serif", "fontSize": 16, "fontStyle": "italic", "align": "center", "baseline": "alphabetic", "dy": -2, "text": "x"},
  "encoding": {"x": {"datum": 0.762, "type": "quantitative", "axis": null}, "y": {"datum": -0.03, "type": "quantitative", "axis": null}}},
 {"data": {"values": [{}]}, "mark": {"type": "text", "font": "Liberation Serif", "fontSize": 16, "align": "left", "baseline": "alphabetic", "dy": -2, "text": "= 1.0"},
  "encoding": {"x": {"datum": 0.786, "type": "quantitative", "axis": null}, "y": {"datum": -0.03, "type": "quantitative", "axis": null}}},
 {"data": {"values": [{}]}, "mark": {"type": "text", "font": "Liberation Serif", "fontSize": 16, "align": "center", "baseline": "middle", "text": "(d)"},
  "encoding": {"x": {"datum": -0.022, "type": "quantitative", "scale": {"domain": [0.06,0.94]}, "axis": null}, "y": {"datum": 4.51, "type": "quantitative", "scale": {"domain": [-0.22,4.62]}, "axis": null}}}
]}
],
"config": {
 "view": {"stroke": "#333333", "strokeWidth": 1},
 "axis": {"domain": false, "grid": true, "gridWidth": 1, "labelFont": "DejaVu Sans", "labelFontSize": 12, "labelColor": "#222222", "titleFont": "DejaVu Sans", "titleFontSize": 12, "titleFontWeight": "normal", "titleColor": "#222222", "tickColor": "#333333", "labelOverlap": false, "labelFlush": false, "labelBound": false, "labelPadding": 3, "titlePadding": 4},
 "legend": {"orient": "top-right", "offset": 8, "padding": 0, "labelFont": "DejaVu Sans", "labelFontSize": 10, "labelColor": "#222222", "symbolType": "stroke", "symbolStrokeWidth": 1.5, "symbolSize": 400, "rowPadding": 0, "labelOffset": 6}
}
}
